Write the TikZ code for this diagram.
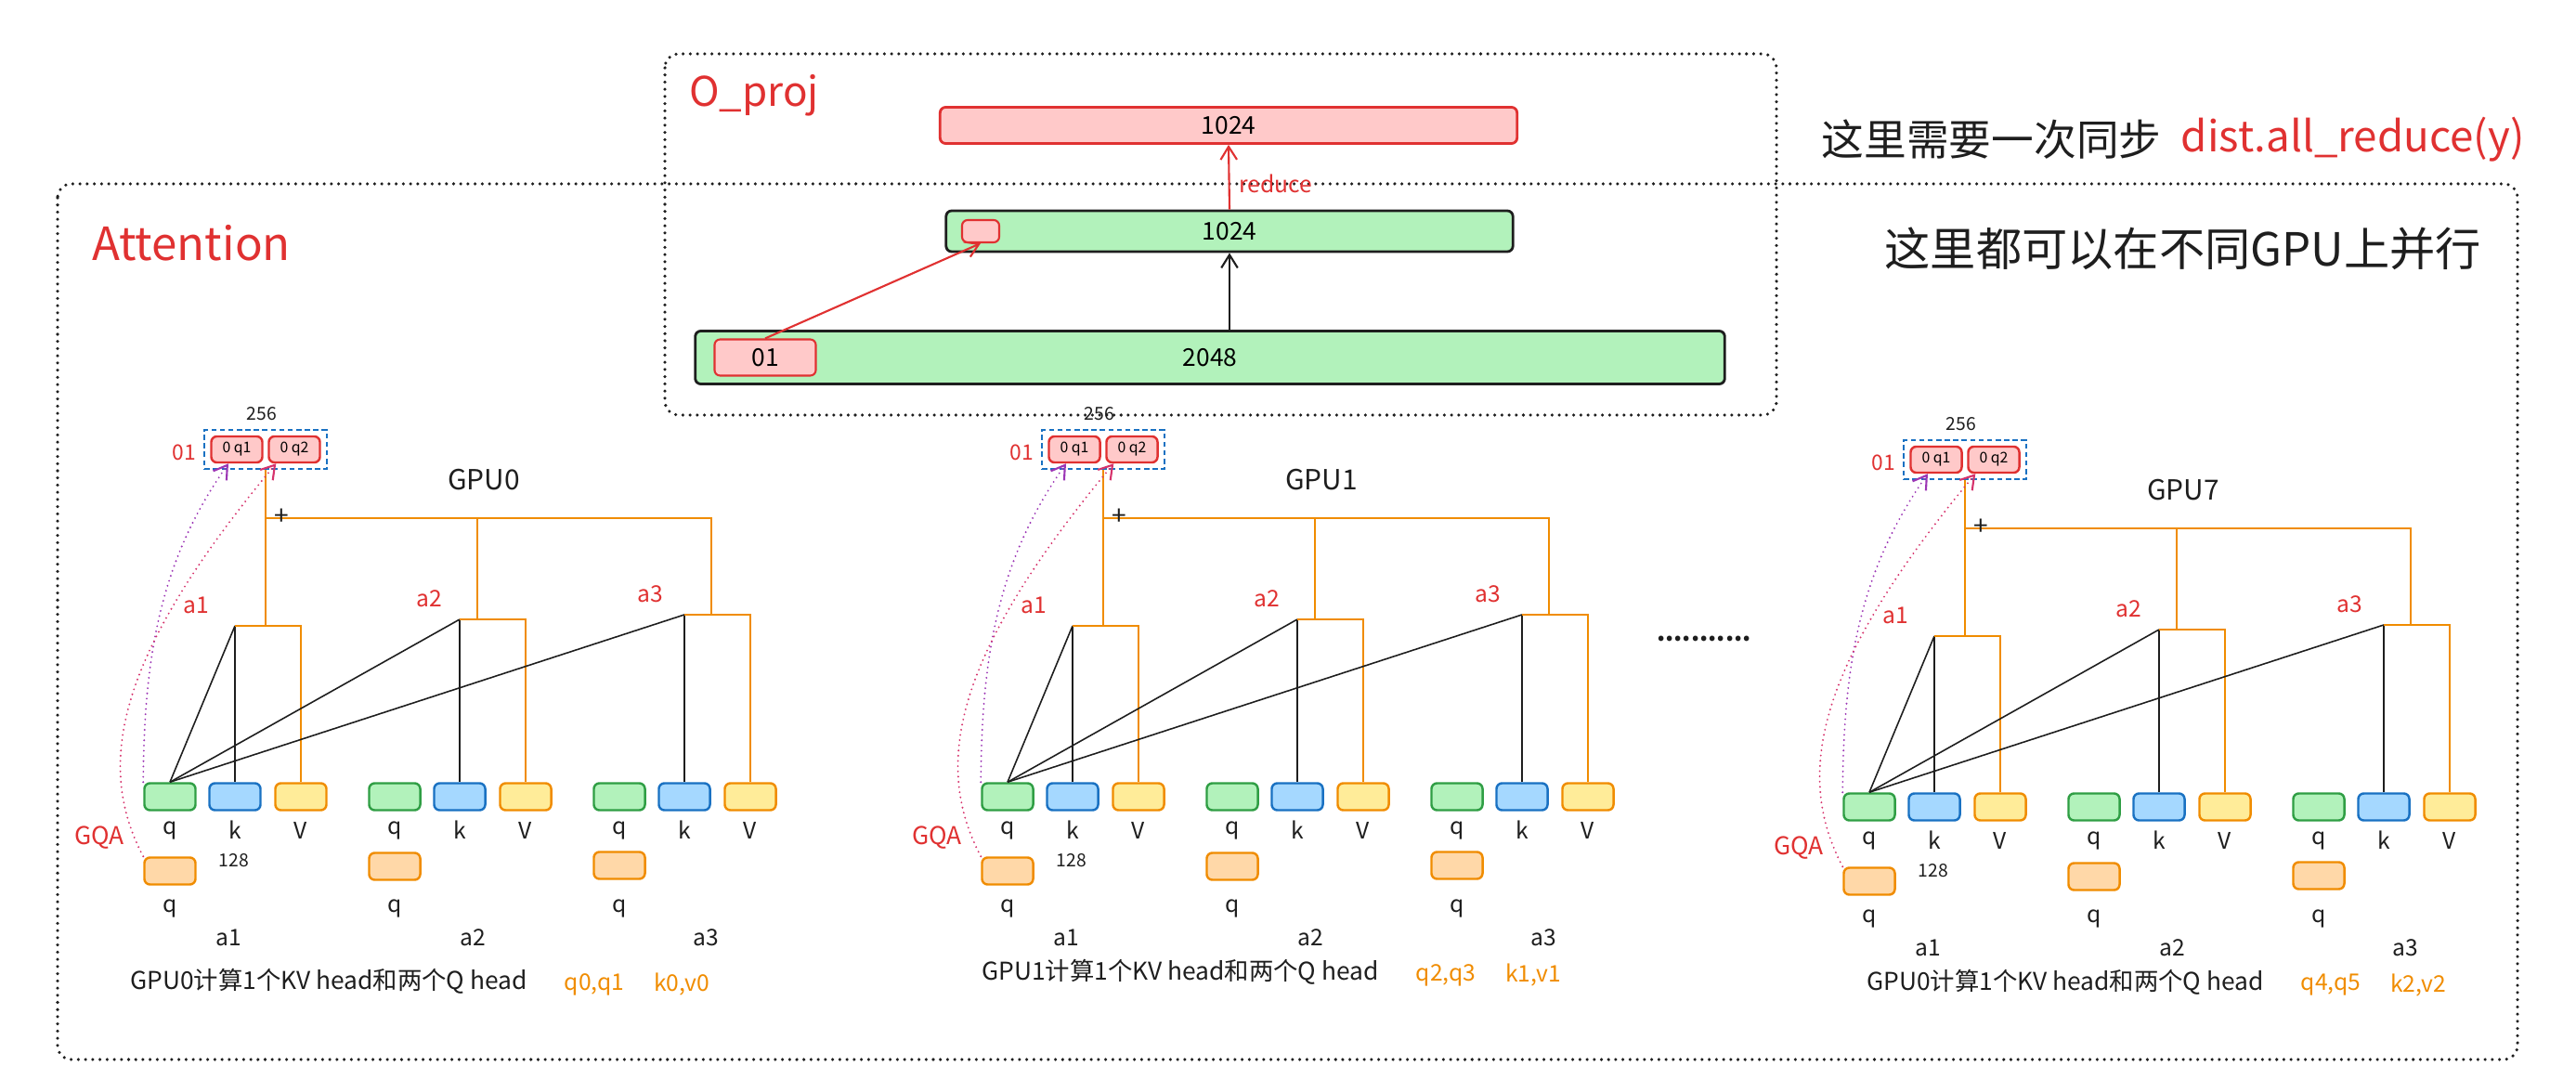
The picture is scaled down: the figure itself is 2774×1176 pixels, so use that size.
\documentclass[tikz,border=0pt]{standalone}
\usepackage{fontspec}
\setmainfont{Noto Sans CJK SC}
\usepackage{tikz}
\usetikzlibrary{positioning, fit, calc, arrows.meta}

\definecolor{exred}{HTML}{E03131}
\definecolor{exredfill}{HTML}{FFC9C9}
\definecolor{exgreen}{HTML}{2F9E44}
\definecolor{exgreenfill}{HTML}{B2F2BB}
\definecolor{exblue}{HTML}{1971C2}
\definecolor{exbluefill}{HTML}{A5D8FF}
\definecolor{exorange}{HTML}{F08C00}
\definecolor{exyellowfill}{HTML}{FFEC99}
\definecolor{exorangefill}{HTML}{FFD8A8}
\definecolor{expurple}{HTML}{9C36B5}
\definecolor{expink}{HTML}{D6336C}
\definecolor{exblack}{HTML}{1E1E1E}

\tikzstyle{dotframe} = [
    draw = exblack,
    line width = 1pt,
    line cap = round,
    dash pattern = on 0pt off 2.2pt,
    rounded corners = 0.15cm,
]
\tikzstyle{barbox} = [
    rectangle,
    rounded corners = 0.06cm,
    line width = 0.8pt,
    inner sep = 0pt,
    font = \fontsize{7.5}{9}\selectfont,
]
\tikzstyle{headbox} = [
    rectangle,
    rounded corners = 0.06cm,
    line width = 0.7pt,
    minimum width = 0.55cm,
    minimum height = 0.29cm,
    inner sep = 0pt,
]
\tikzstyle{qhead} = [headbox, draw = exgreen, fill = exgreenfill]
\tikzstyle{khead} = [headbox, draw = exblue, fill = exbluefill]
\tikzstyle{vhead} = [headbox, draw = exorange, fill = exyellowfill]
\tikzstyle{gqahead} = [headbox, draw = exorange, fill = exorangefill]
\tikzstyle{outhead} = [headbox, draw = exred, fill = exredfill, minimum height = 0.28cm, font = \fontsize{4.5}{5}\selectfont]
\tikzstyle{sumline} = [draw = exorange, line width = 0.6pt]
\tikzstyle{scoreline} = [draw = exblack, line width = 0.45pt]
\tikzstyle{gqaline} = [->, line width = 0.6pt, line cap = round, dash pattern = on 0pt off 1.6pt]
\tikzstyle{redtitle} = [text = exred, inner sep = 0pt, font = \fontsize{14}{16}\selectfont]
\tikzstyle{redtext} = [text = exred, inner sep = 0pt, font = \fontsize{7}{8}\selectfont]
\tikzstyle{plaintext} = [text = exblack, inner sep = 0pt, font = \fontsize{7}{8}\selectfont]
\tikzstyle{dimtext} = [text = exblack, inner sep = 0pt, font = \fontsize{5.5}{6.5}\selectfont]
\tikzstyle{orangetext} = [text = exorange, inner sep = 0pt, font = \fontsize{7}{8}\selectfont]
\tikzstyle{notetext} = [text = exblack, inner sep = 0pt, anchor = west]

\begin{document}
\begin{tikzpicture} [x = 0.01cm, y = -0.01cm, > = {Straight Barb[length = 4pt, width = 5pt]}]
    \useasboundingbox (0, 0) rectangle (2774, 1176);

    \draw[dotframe] (716, 58) rectangle (1913, 447);
    \draw[dotframe] (62, 198) rectangle (2711, 1141);

    \node (OProjTitle) [redtitle, font = \fontsize{12.5}{14}\selectfont] at (812, 103) {O\_proj};
    \node (AttnTitle) [redtitle] at (206, 262) {Attention};

    \node (OProj) [barbox, draw = exred, fill = exredfill, minimum width = 6.21cm, minimum height = 0.39cm] at (1323, 135) {1024};
    \node (AttnOut) [barbox, draw = exblack, fill = exgreenfill, minimum width = 6.10cm, minimum height = 0.44cm] at (1324, 249) {1024};
    \node (Slot) [barbox, draw = exred, fill = exredfill, line width = 0.6pt, minimum width = 0.40cm, minimum height = 0.24cm] at (1056, 249) {};
    \node (Hidden) [barbox, draw = exblack, fill = exgreenfill, minimum width = 11.08cm, minimum height = 0.57cm] at (1303, 385) {2048};
    \node (HiddenO1) [barbox, draw = exred, fill = exredfill, line width = 0.6pt, minimum width = 1.09cm, minimum height = 0.39cm] at (824, 385) {01};

    \draw[->, exred, line width = 0.6pt] (HiddenO1.north) -- (Slot.south);
    \draw[->, exblack, line width = 0.6pt] (Hidden.north -| AttnOut.south) -- (AttnOut.south);
    \draw[->, exred, line width = 0.6pt] (AttnOut.north) -- node [redtext, right = 0.1cm, pos = 0.4] {reduce} (OProj.south);

    \node (Sync) [notetext, font = \fontsize{13}{15}\selectfont] at (1961, 150) {这里需要一次同步};
    \node (AllReduce) [right = 0.2cm of Sync, text = exred, inner sep = 0pt, font = \fontsize{13}{15}\selectfont] {dist.all\_reduce(y)};
    \node (Parallel) [notetext, font = \fontsize{14}{16}\selectfont] at (2029, 268) {这里都可以在不同GPU上并行};
    \node (More) [plaintext, font = \fontsize{7.5}{8}\selectfont] at (1835, 688) {\textbf{...........}};

    \foreach \g/\dx/\dy/\cpt/\cx/\cy/\qs/\kv in {GPU0/0/0/GPU0/0/0/{q0,q1}/{k0,v0}, GPU1/902/0/GPU1/917/-10/{q2,q3}/{k1,v1}, GPU7/1830/11/GPU0/1870/1/{q4,q5}/{k2,v2}} {
        \begin{scope} [shift = {(\dx, \dy)}]
            \node (\g O1) [outhead] at (255, 484) {0 q1};
            \node (\g O2) [outhead] at (317, 484) {0 q2};
            \node (\g Out) [fit = (\g O1) (\g O2), draw = exblue, line width = 0.6pt, dash pattern = on 1.6pt off 1pt, inner sep = 0.06cm] {};
            \node (\g Dim) [dimtext] at (282, 446) {256};
            \node (\g OutName) [redtext, font = \fontsize{6.5}{7}\selectfont] at (198, 487) {01};
            \node (\g Name) [plaintext, font = \fontsize{8.5}{10}\selectfont] at (521, 517) {\g};

            \foreach \i/\x/\y/\by/\s/\ra/\ba in {1/183/938/674/286/211/246, 2/425/933/667/514/462/509, 3/667/932/662/766/700/760} {
                \node (\g Q\i) [qhead] at (\x, 858) {};
                \node (\g K\i) [khead] at (\x + 70, 858) {};
                \node (\g V\i) [vhead] at (\x + 141, 858) {};
                \node (\g H\i) [gqahead] at (\x, \y) {};
                \node (\g QName\i) [plaintext] at (\x, 894) {q};
                \node (\g KName\i) [plaintext] at (\x + 70, 894) {k};
                \node (\g VName\i) [plaintext] at (\x + 141, 894) {V};
                \node (\g HName\i) [plaintext] at (\x, 978) {q};
                \node (\g AName\i) [plaintext] at (\ba, 1010) {a\i};
                \node (\g ATag\i) [redtext] at (\ra, \by - 22) {a\i};
                \coordinate (\g A\i) at (\x + 70, \by);
                \coordinate (\g S\i) at (\s, \by);
                \draw[scoreline] (\g A\i) -- (\g K\i.north);
                \draw[scoreline] (\g Q1.north) -- (\g A\i);
                \draw[sumline] (\g A\i) -| (\g V\i.north);
            }

            \coordinate (\g Sum) at (286, 558);
            \draw[sumline] (\g Out.south) -- (\g S1);
            \draw[sumline] (\g Sum) -| (\g S2);
            \draw[sumline] (\g Sum) -| (\g S3);
            \node (\g Plus) [plaintext, font = \fontsize{8}{9}\selectfont] at (303, 557) {+};
            \node (\g Dim128) [dimtext] at (252, 927) {128};
            \node (\g GQA) [redtext, font = \fontsize{7.5}{9}\selectfont] at (107, 902) {GQA};
            \draw[gqaline, expurple] (\g Q1.north west) .. controls (155, 700) and (175, 600) .. ([xshift = -0.09cm] \g O1.south);
            \draw[gqaline, expink] (\g H1.north west) .. controls (100, 820) and (130, 700) .. ([xshift = 0.09cm] \g O2.south west);
        \end{scope}
        \node (\g Caption) [plaintext, font = \fontsize{7.5}{9}\selectfont] at (354 + \cx, 1057 + \cy) {\cpt 计算1个KV head和两个Q head};
        \node (\g Heads) [orangetext] at (640 + \cx, 1060 + \cy) {\qs};
        \node (\g KV) [orangetext] at (734 + \cx, 1060 + \cy) {\kv};
    }
\end{tikzpicture}
\end{document}
